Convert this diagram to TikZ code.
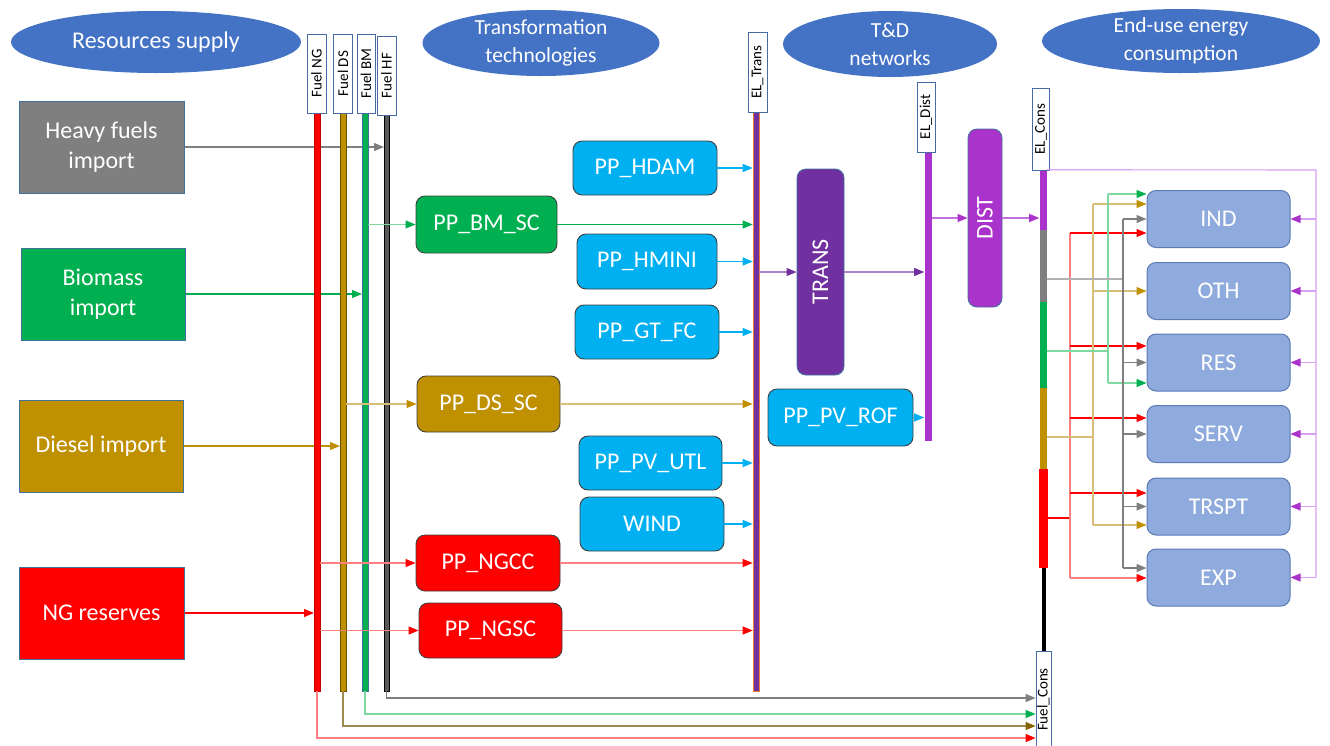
\documentclass[tikz,border=0pt]{standalone}
\usepackage{fontspec}
\setmainfont{Carlito}
\usetikzlibrary{shapes.geometric,arrows.meta}
\definecolor{ellblue}{HTML}{4472C4}
\definecolor{srcborder}{HTML}{41719C}
\definecolor{cgray}{HTML}{7F7F7F}
\definecolor{cgreen}{HTML}{00B050}
\definecolor{cbrown}{HTML}{BF9000}
\definecolor{cred}{HTML}{FF0000}
\definecolor{ccyan}{HTML}{00B0F0}
\definecolor{cpurple}{HTML}{7030A0}
\definecolor{cmag}{HTML}{AA33CC}
\definecolor{cmaglight}{HTML}{D8A0F0}
\definecolor{eublue}{HTML}{8FAADC}
\definecolor{euborder}{HTML}{5B7BB5}
\definecolor{lblborder}{HTML}{4A6AA5}
\definecolor{corange}{HTML}{ED7D31}
\definecolor{hfgray}{HTML}{595959}
\definecolor{lgreen}{HTML}{7ED8A0}
\definecolor{lred}{HTML}{FF8080}
\definecolor{ltan}{HTML}{D8BE78}
\definecolor{olive}{HTML}{A08A50}
\begin{document}
\begin{tikzpicture}[x=1pt,y=-1pt,
  ellnode/.style={ellipse, fill=ellblue, inner sep=0pt},
  ellabel/.style={text=white, align=center, font=\fontsize{21.5}{28}\selectfont},
  srcbox/.style={rectangle, draw=srcborder, line width=1pt, text=white, align=center, inner sep=0pt, minimum width=165, minimum height=92, font=\fontsize{24}{30}\selectfont},
  ppbox/.style={rectangle, rounded corners=9pt, draw=black!75, line width=0.9pt, text=white, inner sep=0pt, font=\fontsize{24}{28}\selectfont},
  eubox/.style={rectangle, rounded corners=9pt, draw=euborder, line width=1pt, fill=eublue, text=white, inner sep=0pt, minimum width=143, minimum height=57, font=\fontsize{24}{28}\selectfont},
  busbar/.style={rectangle, inner sep=0pt, line width=0.6pt},
  buslabel/.style={rectangle, rotate=90, draw=lblborder, fill=white, line width=0.8pt, inner sep=0pt, font=\fontsize{15}{15}\selectfont},
  arrc/.style 2 args={draw=#1, line width=1.1pt, -{Triangle[length=10pt,width=8pt,color=#2]}},
  plainln/.style={draw=#1, line width=1.1pt},
]
\useasboundingbox[fill=white] (0,0) rectangle (1330,745);

% ellipses
\node[ellnode, minimum width=290, minimum height=62, label={[ellabel, font=\fontsize{24}{28}\selectfont]center:Resources supply}] (e1) at (156,42) {};
\node[ellnode, minimum width=237, minimum height=66, label={[ellabel]center:Transformation\\technologies}] (e2) at (541,43) {};
\node[ellnode, minimum width=214, minimum height=66, label={[ellabel]center:T\&D\\networks}] (e3) at (890,44) {};
\node[ellnode, minimum width=278, minimum height=64, label={[ellabel]center:End-use energy\\consumption}] (e4) at (1181,41) {};

% source boxes
\node[srcbox, fill=cgray] (hfs) at (101.5,147) {Heavy fuels\\import};
\node[srcbox, fill=cgreen, minimum width=164] (bms) at (103,294) {Biomass\\import};
\node[srcbox, fill=cbrown, minimum width=164] (dss) at (101,446) {Diesel import};
\node[srcbox, fill=cred] (ngs) at (101.5,613) {NG reserves};

% power plants
\node[ppbox, fill=ccyan, minimum width=144, minimum height=54] (hdam) at (645,168) {PP\_HDAM};
\node[ppbox, fill=cgreen, minimum width=141, minimum height=57] (bmsc) at (486.5,224.5) {PP\_BM\_SC};
\node[ppbox, fill=ccyan, minimum width=140, minimum height=55] (hmini) at (647,261.5) {PP\_HMINI};
\node[ppbox, fill=ccyan, minimum width=144, minimum height=54] (gtfc) at (647,332) {PP\_GT\_FC};
\node[ppbox, fill=cbrown, minimum width=143, minimum height=56] (dssc) at (488.5,404) {PP\_DS\_SC};
\node[ppbox, fill=ccyan, minimum width=143, minimum height=54] (pvutl) at (650.5,463) {PP\_PV\_UTL};
\node[ppbox, fill=ccyan, minimum width=144, minimum height=54] (wind) at (652,524) {WIND};
\node[ppbox, fill=cred, minimum width=144, minimum height=56] (ngcc) at (488,563) {PP\_NGCC};
\node[ppbox, fill=cred, minimum width=143, minimum height=55] (ngsc) at (490.5,630.5) {PP\_NGSC};
\node[ppbox, fill=ccyan, minimum width=145, minimum height=57] (pvrof) at (840.5,417.5) {PP\_PV\_ROF};
\node[ppbox, fill=cpurple, draw=srcborder, minimum width=47, minimum height=206] (trans) at (820.5,272) {\rotatebox{90}{TRANS}};
\node[ppbox, fill=cmag, draw=srcborder, minimum width=34, minimum height=178] (dist) at (985,218) {\rotatebox{90}{DIST}};

% end-use
\node[eubox] (ind) at (1218.5,219) {IND};
\node[eubox] (oth) at (1218.5,291) {OTH};
\node[eubox] (res) at (1218.5,362.5) {RES};
\node[eubox] (serv) at (1218.5,434) {SERV};
\node[eubox] (trspt) at (1218.5,506.5) {TRSPT};
\node[eubox] (exp) at (1218.5,577.5) {EXP};

% source -> fuel buses
\draw[arrc={cgray}{cgray}] (hfs.east) -- (384,147);
\draw[arrc={cgreen}{cgreen}] (bms.east) -- (362,294);
\draw[arrc={cbrown}{cbrown}] (dss.east) -- (340,446);
\draw[arrc={cred}{cred}] (ngs.east) -- (314,613);

% buses (drawn as named nodes)
\node[busbar, fill=cred, draw=red!75!black, minimum width=6, minimum height=578] (ng) at (317,402) {};
\node[busbar, fill=cbrown, draw=cbrown!55!black, minimum width=6, minimum height=578] (ds) at (343,402) {};
\node[busbar, fill=cgreen, draw=srcborder, minimum width=6, minimum height=578] (bm) at (365,402) {};
\node[busbar, fill=hfgray, draw=black, minimum width=5, minimum height=576] (hf) at (386.5,403) {};
\node[busbar, fill=cpurple, draw=corange, minimum width=6, minimum height=579] (elt) at (756,401.5) {};
\node[busbar, fill=cmag, minimum width=7, minimum height=289] (eld) at (928,296.5) {};
\node[busbar, fill=cmag, minimum width=7, minimum height=60] (elc1) at (1043,200) {};
\node[busbar, fill=cgray, minimum width=7, minimum height=72] (elc2) at (1043,266) {};
\node[busbar, fill=cgreen, minimum width=7, minimum height=86] (elc3) at (1043,345) {};
\node[busbar, fill=cbrown, minimum width=7, minimum height=81] (elc4) at (1043,428.5) {};
\node[busbar, fill=cred, minimum width=9, minimum height=99] (elc5) at (1043,518.5) {};
\node[busbar, fill=black, minimum width=4, minimum height=83] (elc6) at (1043.5,609.5) {};

% bus labels
\node[buslabel, minimum width=79, minimum height=19] (ngl) at (316.5,73.5) {Fuel NG};
\node[buslabel, minimum width=79, minimum height=19] (dsl) at (343,73.5) {Fuel DS};
\node[buslabel, minimum width=79, minimum height=18] (bml) at (366,73.5) {Fuel BM};
\node[buslabel, minimum width=79, minimum height=19] (hfl) at (386.5,75.5) {Fuel HF};
\node[buslabel, minimum width=80, minimum height=19] (eltl) at (757.5,72) {EL\_Trans};
\node[buslabel, minimum width=70, minimum height=18] (eldl) at (926,117) {EL\_Dist};
\node[buslabel, minimum width=82, minimum height=17] (elcl) at (1041,129) {EL\_Cons};
\node[buslabel, minimum width=97, minimum height=15] (fcl) at (1043.5,699.5) {Fuel\_Cons};

% fuel buses -> plants
\draw[arrc={lgreen}{cgreen}] (bm.east |- bmsc.west) -- (bmsc.west);
\draw[arrc={ltan}{cbrown}] (ds.east |- dssc.west) -- (dssc.west);
\draw[arrc={lred}{cred}] (ng.east |- ngcc.west) -- (ngcc.west);
\draw[arrc={lred}{cred}] (ng.east |- ngsc.west) -- (ngsc.west);

% plants -> EL_Trans
\draw[arrc={ccyan}{ccyan}] (hdam.east) -- (elt.west |- hdam.east);
\draw[arrc={cgreen}{cgreen}] (bmsc.east) -- (elt.west |- bmsc.east);
\draw[arrc={ccyan}{ccyan}] (hmini.east) -- (elt.west |- hmini.east);
\draw[arrc={ccyan}{ccyan}] (gtfc.east) -- (elt.west |- gtfc.east);
\draw[arrc={ltan}{cbrown}] (dssc.east) -- (elt.west |- dssc.east);
\draw[arrc={ccyan}{ccyan}] (pvutl.east) -- (elt.west |- pvutl.east);
\draw[arrc={ccyan}{ccyan}] (wind.east) -- (elt.west |- wind.east);
\draw[arrc={lred}{cred}] (ngcc.east) -- (elt.west |- ngcc.east);
\draw[arrc={lred}{cred}] (ngsc.east) -- (elt.west |- ngsc.east);

% T&D
\draw[arrc={cpurple!60}{cpurple}] (elt.east |- trans.west) -- (trans.west);
\draw[arrc={cpurple!60}{cpurple}] (trans.east) -- (eld.west |- trans.east);
\draw[arrc={ccyan}{ccyan}] (pvrof.east) -- (eld.west |- pvrof.east);
\draw[arrc={cmag!70}{cmag}] (eld.east |- dist.west) -- (dist.west);
\draw[arrc={cmag!70}{cmag}] (dist.east) -- (elc1.west |- dist.east);

% electricity to end uses
\coordinate (px) at (1316,170);
\draw[plainln=cmaglight] (elc1.north east) -- (px) -- (px |- exp.east);
\foreach \n in {ind,oth,res,serv,trspt,exp}
  \draw[arrc={cmaglight}{cmag}] (px |- \n.east) -- (\n.east);

% red feeds
\coordinate (rtop) at (1070,233);
\coordinate (rbot) at (1070,578);
\coordinate (rfeed) at (1070,518);
\coordinate (r2) at (1070,346);
\coordinate (r3) at (1070,418);
\coordinate (r4) at (1070,493);
\draw[plainln=cred] (elc5.east |- rfeed) -- (rfeed);
\draw[plainln=lred] (rtop) -- (rbot);
\draw[arrc={cred}{cred}] (rtop) -- (ind.west |- rtop);
\draw[arrc={cred}{cred}] (r2) -- (res.west |- r2);
\draw[arrc={cred}{cred}] (r3) -- (serv.west |- r3);
\draw[arrc={cred}{cred}] (r4) -- (trspt.west |- r4);
\draw[arrc={lred}{cred}] (rbot) -- (exp.west |- rbot);

% diesel feeds
\coordinate (btop) at (1093,204);
\coordinate (bbot) at (1093,525);
\coordinate (bfeed) at (1093,437);
\draw[plainln=ltan] (elc4.east |- bfeed) -- (bfeed);
\draw[plainln=ltan] (btop) -- (bbot);
\draw[arrc={ltan}{cbrown}] (btop) -- (ind.west |- btop);
\draw[arrc={ltan}{cbrown}] (btop |- oth.west) -- (oth.west);
\draw[arrc={ltan}{cbrown}] (bbot) -- (trspt.west |- bbot);

% biomass feeds
\coordinate (gntop) at (1108,194);
\coordinate (gnbot) at (1108,383);
\coordinate (gnfeed) at (1108,351);
\draw[plainln=lgreen] (elc3.east |- gnfeed) -- (gnfeed);
\draw[plainln=lgreen] (gntop) -- (gnbot);
\draw[arrc={lgreen}{cgreen}] (gntop) -- (ind.west |- gntop);
\draw[arrc={lgreen}{cgreen}] (gnbot) -- (res.west |- gnbot);

% heavy fuel feeds
\coordinate (gtop) at (1123,219);
\coordinate (gbot) at (1123,568);
\coordinate (gfeed) at (1123,279);
\draw[plainln=cgray!60] (elc2.east |- gfeed) -- (gfeed);
\draw[plainln=cgray] (gtop) -- (gbot);
\draw[arrc={cgray}{cgray}] (gtop) -- (ind.west |- gtop);
\draw[arrc={cgray}{cgray}] (gtop |- res.west) -- (res.west);
\draw[arrc={cgray}{cgray}] (gtop |- serv.west) -- (serv.west);
\draw[arrc={cgray}{cgray}] (gtop |- trspt.west) -- (trspt.west);
\draw[arrc={cgray}{cgray}] (gbot) -- (exp.west |- gbot);

% fuel buses -> Fuel_Cons (left side of the rotated label is its north anchor)
\coordinate (y1) at (0,698);
\coordinate (y2) at (0,714);
\coordinate (y3) at (0,726);
\coordinate (y4) at (0,738);
\draw[arrc={cgray}{cgray}] (hf.south) |- (fcl.north |- y1);
\draw[arrc={lgreen}{cgreen}] (bm.south) |- (fcl.north |- y2);
\draw[arrc={olive}{cbrown!70!black}] (ds.south) |- (fcl.north |- y3);
\draw[arrc={lred}{cred}] (ng.south) |- (fcl.north |- y4);
\end{tikzpicture}
\end{document}
